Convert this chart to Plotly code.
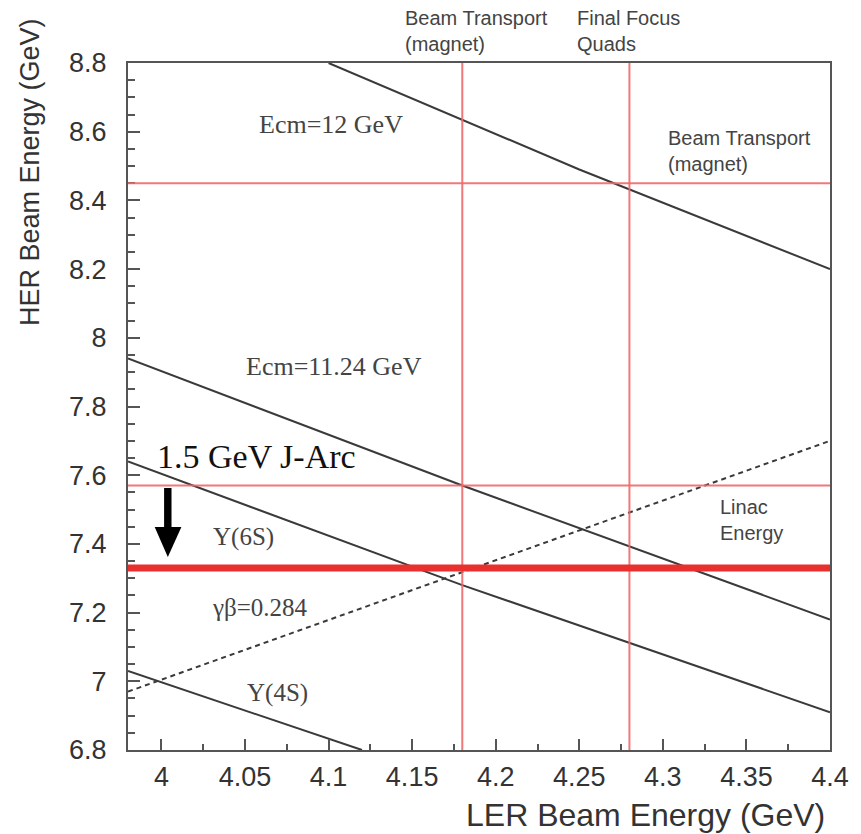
import plotly.graph_objects as go

# ---- data ----
ler_ecm12 = [4.10, 4.25, 4.4]
her_ecm12 = [8.80, 8.49, 8.20]

ler_ecm1124 = [3.98, 4.18, 4.4]
her_ecm1124 = [7.94, 7.57, 7.18]

ler_y6s = [3.98, 4.18, 4.4]
her_y6s = [7.64, 7.28, 6.91]

ler_y4s = [3.98, 4.12]
her_y4s = [7.03, 6.80]

ler_gb = [3.98, 4.4]
her_gb = [6.97, 7.70]

vlines_ler = [4.18, 4.28]          # Beam Transport (magnet), Final Focus Quads
hlines_her = [8.45, 7.57]          # Beam Transport (magnet), Linac Energy
jarc_her = 7.33                    # 1.5 GeV J-Arc limit

x_range = [3.98, 4.4]
y_range = [6.8, 8.8]
x_ticks = [4.0, 4.05, 4.1, 4.15, 4.2, 4.25, 4.3, 4.35, 4.4]
x_ticklabels = ["4", "4.05", "4.1", "4.15", "4.2", "4.25", "4.3", "4.35", "4.4"]
y_ticks = [6.8, 7.0, 7.2, 7.4, 7.6, 7.8, 8.0, 8.2, 8.4, 8.6, 8.8]
y_ticklabels = ["6.8", "7", "7.2", "7.4", "7.6", "7.8", "8", "8.2", "8.4", "8.6", "8.8"]

LINE = "#3a3a3a"
RED_THIN = "rgba(238,105,105,0.9)"
RED_THICK = "#e8302e"

fig = go.Figure()

for xs, ys in [(ler_ecm12, her_ecm12), (ler_ecm1124, her_ecm1124),
               (ler_y6s, her_y6s), (ler_y4s, her_y4s)]:
    fig.add_trace(go.Scatter(x=xs, y=ys, mode="lines",
                             line=dict(color=LINE, width=2), showlegend=False,
                             hoverinfo="skip"))
fig.add_trace(go.Scatter(x=ler_gb, y=her_gb, mode="lines",
                         line=dict(color=LINE, width=2, dash="5px,4px"),
                         showlegend=False, hoverinfo="skip"))

for xv in vlines_ler:
    fig.add_shape(type="line", xref="x", yref="paper", x0=xv, x1=xv, y0=0, y1=1,
                  line=dict(color=RED_THIN, width=2))
for yv in hlines_her:
    fig.add_shape(type="line", xref="paper", yref="y", x0=0, x1=1, y0=yv, y1=yv,
                  line=dict(color=RED_THIN, width=2))
fig.add_shape(type="line", xref="paper", yref="y", x0=0, x1=1, y0=jarc_her, y1=jarc_her,
              line=dict(color=RED_THICK, width=7))

# plot area in pixels: x 128..838, y 63..750
L, R, T, B = 128, 838, 63, 750
def px(x):
    return (x - L) / (R - L)
def py(y):
    return (B - y) / (B - T)

# arrow
fig.add_shape(type="rect", xref="paper", yref="paper",
              x0=px(164.5), x1=px(172), y0=py(530), y1=py(488),
              fillcolor="black", line=dict(width=0))
fig.add_shape(type="path", xref="paper", yref="paper",
              path=f"M {px(155)} {py(527)} L {px(182)} {py(527)} L {px(168.3)} {py(557)} Z",
              fillcolor="black", line=dict(width=0))

serif = "Liberation Serif, Times New Roman, serif"
sans = "Liberation Sans, Arial, sans-serif"
TXT = "#444444"

def ann(text, x, y, size, family, color=TXT, xanchor="center", yanchor="middle", align="left"):
    fig.add_annotation(text=text, x=px(x), y=py(y), xref="paper", yref="paper",
                       showarrow=False, xanchor=xanchor, yanchor=yanchor, align=align,
                       font=dict(size=size, family=family, color=color))

ann("Ecm=12 GeV", 333, 124, 26, serif)
ann("Ecm=11.24 GeV", 336, 366, 26, serif)
ann("1.5 GeV J-Arc", 155, 457, 34, serif, color="#111111", xanchor="left")
ann("Y(6S)", 245, 537, 25, serif)
ann("γβ=0.284", 262, 607, 25, serif)
ann("Y(4S)", 279, 693, 25, serif)

ann("Beam Transport<br>(magnet)", 406, 31, 20, sans, xanchor="left")
ann("Final Focus<br>Quads", 580, 31, 20, sans, xanchor="left")
ann("Beam Transport<br>(magnet)", 672, 151, 20, sans, xanchor="left")
ann("Linac<br>Energy", 725, 520, 20, sans, xanchor="left")

# axis titles
ann("LER Beam Energy (GeV)", 835, 815, 32, sans, color="#333333", xanchor="right")
fig.add_annotation(text="HER Beam Energy (GeV)", x=px(29), y=py(172), xref="paper", yref="paper",
                   showarrow=False, textangle=-90, xanchor="center", yanchor="middle",
                   font=dict(size=27, family=sans, color="#333333"))

axis_common = dict(showline=True, linecolor="#555555", linewidth=2, mirror=True,
                   ticks="inside", tickcolor="#555555", tickwidth=2,
                   showgrid=False, zeroline=False,
                   tickfont=dict(size=27, family=sans, color="#333333"))

fig.update_xaxes(range=x_range, tickvals=x_ticks, ticktext=x_ticklabels, ticklen=11,
                 ticklabelstandoff=2,
                 minor=dict(ticks="inside", ticklen=6, dtick=0.025, tick0=4.0,
                            tickcolor="#555555", tickwidth=2, showgrid=False),
                 **axis_common)
fig.update_yaxes(range=y_range, tickvals=y_ticks, ticktext=y_ticklabels, ticklen=12,
                 ticklabelstandoff=14,
                 minor=dict(ticks="inside", ticklen=7, dtick=0.05, tick0=6.8,
                            tickcolor="#555555", tickwidth=2, showgrid=False),
                 **axis_common)

fig.update_layout(width=861, height=834, autosize=False,
                  margin=dict(l=L, r=861 - R, t=T, b=834 - B),
                  paper_bgcolor="white", plot_bgcolor="white")

fig.write_html("out.html")
